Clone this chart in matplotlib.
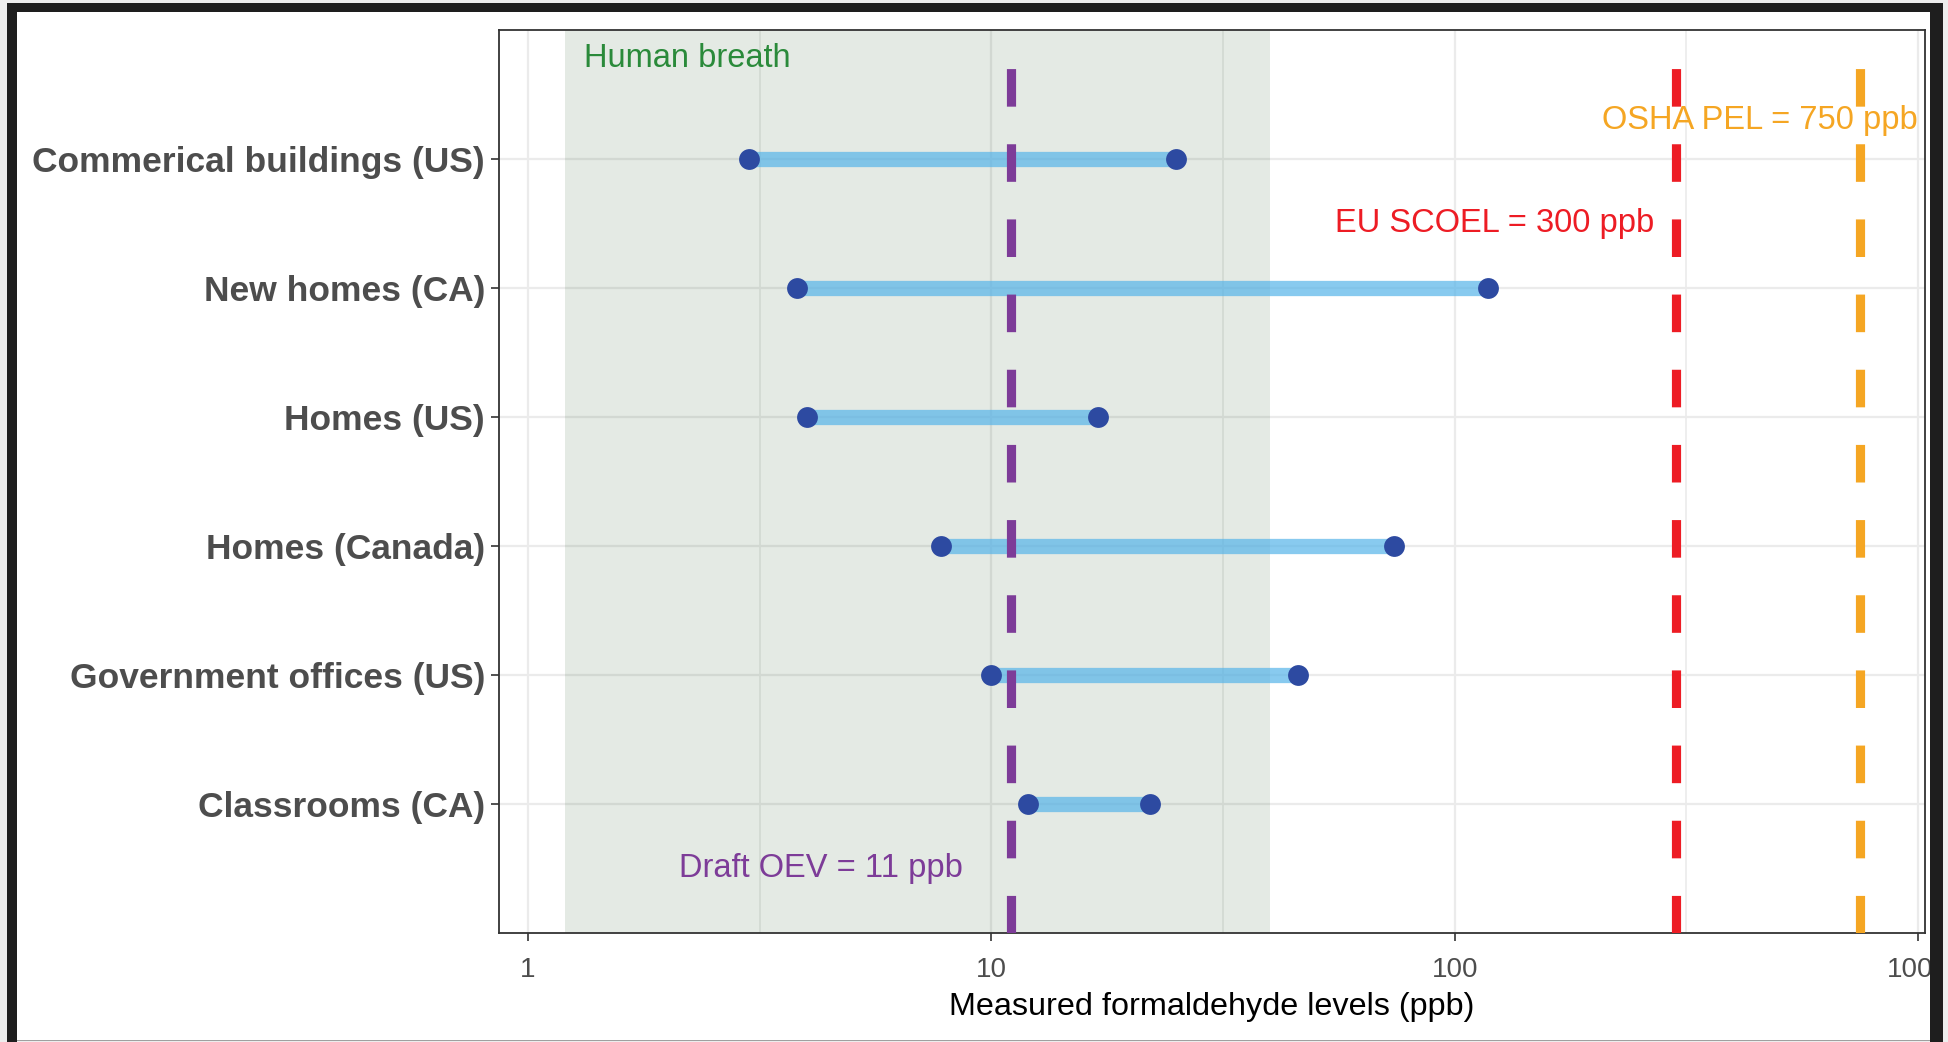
import matplotlib
matplotlib.use("Agg")
import matplotlib.pyplot as plt
from matplotlib.ticker import FixedLocator, NullFormatter
from matplotlib.patches import Rectangle
import numpy as np

plt.rcParams['font.family'] = ['Liberation Sans', 'DejaVu Sans']

# ---- data ----
categories = ["Classrooms (CA)", "Government offices (US)", "Homes (Canada)",
              "Homes (US)", "New homes (CA)", "Commerical buildings (US)"]
low_vals = [12, 10, 7.8, 4, 3.8, 3]
high_vals = [22, 46, 74, 17, 118, 25]

breath_range = [1.2, 40]
oev_value = 11
scoel_value = 300
osha_value = 750

x_major = [1, 10, 100, 1000]
x_major_labels = ["1", "10", "100", "1000"]
x_minor = [10 ** 0.5, 10 ** 1.5, 10 ** 2.5]

W, H = 1948, 1042
fig = plt.figure(figsize=(W / 100, H / 100), dpi=100)
fig.patch.set_facecolor('white')

ax = fig.add_axes([499 / W, (H - 933) / H, (1925 - 499) / W, (933 - 30) / H])
ax.set_xscale('log')
ax.set_xlim(10 ** -0.0626, 10 ** 3.015)

# categorical y axis
ax.hlines(categories, low_vals, high_vals, color='#56B4E9', alpha=0.7,
          lw=11, zorder=4, capstyle='butt')
ax.set_ylim(-1, len(categories))

ax.plot(low_vals, categories, 'o', color='#2D4AA1', ms=15, mew=0, zorder=6)
ax.plot(high_vals, categories, 'o', color='#2D4AA1', ms=15, mew=0, zorder=6)

# shaded human breath region
ax.axvspan(breath_range[0], breath_range[1], color=(0, 0.24, 0), alpha=0.105,
           lw=0, zorder=2)

# reference lines
for val, col in [(oev_value, '#7D3C98'), (scoel_value, '#ED1C24'), (osha_value, '#F5A623')]:
    ax.axvline(val, ymin=0, ymax=0.996, color=col, lw=6.6, dashes=(4.1, 4.1),
               dash_capstyle='butt', zorder=5)

# annotations
ax.text(1.32, 5.78, "Human breath", color='#2A8A3A', fontsize=23.5, ha='left', va='center')
ax.text(1000, 5.30, "OSHA PEL = 750 ppb", color='#F5A623', fontsize=23.5, ha='right', va='center', zorder=7)
ax.text(270, 4.50, "EU SCOEL = 300 ppb", color='#ED1C24', fontsize=23.5, ha='right', va='center', zorder=7)
ax.text(8.7, -0.5, "Draft OEV = 11 ppb", color='#7D3C98', fontsize=23.5, ha='right', va='center', zorder=7)

# ticks and grid
ax.xaxis.set_major_locator(FixedLocator(x_major))
ax.set_xticklabels(x_major_labels)
ax.xaxis.set_minor_locator(FixedLocator(x_minor))
ax.xaxis.set_minor_formatter(NullFormatter())
ax.tick_params(axis='x', which='minor', length=0)
ax.tick_params(axis='x', which='major', length=6, width=1.2, color='#333333',
               labelsize=20, labelcolor='#4D4D4D', pad=11)
ax.tick_params(axis='y', which='major', length=6, width=1.2, color='#333333',
               labelsize=25.5, labelcolor='#4D4D4D', pad=4)
for lbl in ax.get_yticklabels():
    lbl.set_fontweight('bold')

ax.set_axisbelow(True)
ax.grid(True, which='major', axis='both', color='#EBEBEB', lw=1.6, zorder=0)
ax.grid(True, which='minor', axis='x', color='#EBEBEB', lw=1.2, zorder=0)

for sp in ax.spines.values():
    sp.set_color('#333333')
    sp.set_linewidth(1.3)

ax.set_xlabel("Measured formaldehyde levels (ppb)", fontsize=23.3, color='black', labelpad=7)

# outer frame (screenshot border)
def frect(x0, y0_top, x1, y1_top, color):
    # pixel coordinates with top-left origin
    r = Rectangle((x0 / W, (H - y1_top) / H), (x1 - x0) / W, (y1_top - y0_top) / H,
                  transform=fig.transFigure, facecolor=color, edgecolor='none', zorder=20)
    fig.add_artist(r)

frect(0, 0, 7, H, '#EDEDED')
frect(0, 0, W, 3, '#EDEDED')
frect(1943, 0, W, H, '#EDEDED')
frect(7, 3, 17, H, '#1E1E1E')
frect(7, 3, 1943, 12, '#1E1E1E')
frect(1930, 3, 1943, H, '#1E1E1E')
frect(17, 1040, 1930, 1041, '#A0A0A0')
frect(17, 1041, 1930, H, '#EDEDED')

fig.savefig("out.png", dpi=100, facecolor=fig.get_facecolor())
